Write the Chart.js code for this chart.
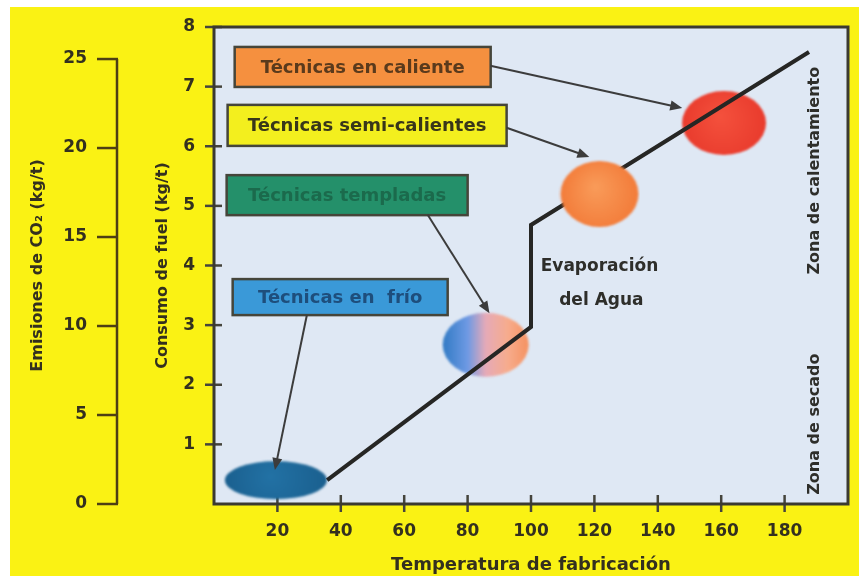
<!DOCTYPE html>
<html lang="es">
<head>
<meta charset="utf-8">
<title>Consumo de fuel según la temperatura de fabricación</title>
<script src="https://cdn.jsdelivr.net/npm/chart.js@4.4.1/dist/chart.umd.min.js"></script>
<style>
    html, body { margin: 0; padding: 0; background: #ffffff; }
    #wrap { position: absolute; left: 10px; top: 7px; width: 849px; height: 569px; background: #faf214; }
    canvas { display: block; }
</style>
</head>
<body>
<div id="wrap"><canvas id="fuelChart" width="849" height="569"></canvas></div>
<script>
// axis ticks
const tempTicks = [20, 40, 60, 80, 100, 120, 140, 160, 180];
const fuelTicks = [1, 2, 3, 4, 5, 6, 7, 8];
const co2Ticks = [0, 5, 10, 15, 20, 25];

// fuel consumption curve (temperature, kg/t)
const curveTemp = [35.7, 100, 100, 187.7];
const curveFuel = [0.40, 2.97, 4.68, 7.58];

// mix techniques, order: frío, templadas, semi-calientes, caliente
const techniques = ['Técnicas en  frío', 'Técnicas templadas', 'Técnicas semi-calientes', 'Técnicas en caliente'];
const techTemp = [19.5, 85.7, 121.6, 160.9];
const techFuel = [0.40, 2.67, 5.20, 6.39];

const INK = '#33301f';
const FONT = '"DejaVu Sans", sans-serif';

// ---- ellipse sprites used as point styles ----
function ellipseSprite(w, h, paint) {
    const c = document.createElement('canvas');
    c.width = w;
    c.height = h;
    const g = c.getContext('2d');
    g.filter = 'blur(0.8px)';
    g.beginPath();
    g.ellipse(w / 2, h / 2, w / 2 - 2, h / 2 - 2, 0, 0, Math.PI * 2);
    g.fillStyle = paint(g, w, h);
    g.fill();
    return c;
}

function radial(colorIn, colorOut) {
    return function (g, w, h) {
        const grad = g.createRadialGradient(w * 0.45, h * 0.4, 2, w / 2, h / 2, w / 2);
        grad.addColorStop(0, colorIn);
        grad.addColorStop(1, colorOut);
        return grad;
    };
}

const sprites = [
    ellipseSprite(106, 42, radial('#2271a4', '#1a5f8e')),
    ellipseSprite(90, 68, function (g, w) {
        const grad = g.createLinearGradient(0, 0, w, 0);
        grad.addColorStop(0, '#2c78c2');
        grad.addColorStop(0.3, '#6f9ae4');
        grad.addColorStop(0.5, '#e6aab8');
        grad.addColorStop(0.75, '#f7ac8c');
        grad.addColorStop(1, '#f58f5c');
        return grad;
    }),
    ellipseSprite(82, 70, radial('#f99a58', '#f27a38')),
    ellipseSprite(88, 68, radial('#f4503c', '#e83a2c'))
];

function techPoints(indexes) {
    return indexes.map(function (i) { return { x: techTemp[i], y: techFuel[i] }; });
}

function techSprites(indexes) {
    return indexes.map(function (i) { return sprites[i]; });
}

// ---- annotations (boxes, arrows, notes) placed in data coordinates ----
const labelBoxes = [
    { text: techniques[3], x: 46.9, y: 7.33, w: 256, h: 40, fill: '#f5903f', color: '#5a3a1c' },
    { text: techniques[2], x: 48.3, y: 6.35, w: 279, h: 41, fill: '#f3ef1e', color: '#38361a' },
    { text: techniques[1], x: 42.0, y: 5.18, w: 241, h: 40, fill: '#24906a', color: '#1b6a4c' },
    { text: techniques[0], x: 39.8, y: 3.47, w: 215, h: 36, fill: '#3a99d8', color: '#1e4e7c' }
];

const arrows = [
    { from: [87.2, 7.35], to: [147.7, 6.64] },
    { from: [92.3, 6.31], to: [118.4, 5.82] },
    { from: [67.4, 4.85], to: [86.9, 3.20] },
    { from: [29.3, 3.17], to: [19.2, 0.57] }
];

const notes = [
    { text: 'Evaporación', x: 121.6, y: 3.98, size: 17, rotate: false },
    { text: 'del Agua', x: 122.2, y: 3.42, size: 17, rotate: false },
    { text: 'Zona de calentamiento', x: 189.6, y: 5.59, size: 16, rotate: true },
    { text: 'Zona de secado', x: 189.6, y: 1.34, size: 16, rotate: true }
];

function drawArrow(ctx, x1, y1, x2, y2) {
    const ang = Math.atan2(y2 - y1, x2 - x1);
    const head = 12;
    const half = 5;
    const cos = Math.cos(ang);
    const sin = Math.sin(ang);
    ctx.beginPath();
    ctx.moveTo(x1, y1);
    ctx.lineTo(x2 - head * cos * 0.8, y2 - head * sin * 0.8);
    ctx.stroke();
    ctx.beginPath();
    ctx.moveTo(x2, y2);
    ctx.lineTo(x2 - head * cos + half * sin, y2 - head * sin - half * cos);
    ctx.lineTo(x2 - head * cos - half * sin, y2 - head * sin + half * cos);
    ctx.closePath();
    ctx.fill();
}

const plotFrame = {
    id: 'plotFrame',
    beforeDraw(chart) {
        const ctx = chart.ctx;
        const a = chart.chartArea;
        ctx.save();
        ctx.fillStyle = '#dfe8f4';
        ctx.fillRect(a.left, a.top, a.right - a.left, a.bottom - a.top);
        ctx.restore();
    },
    beforeDatasetsDraw(chart) {
        const ctx = chart.ctx;
        const a = chart.chartArea;
        const xs = chart.scales.x;
        const ys = chart.scales.y;
        const co2 = chart.scales.y2;
        ctx.save();
        ctx.lineCap = 'butt';

        // tick marks crossing the axes
        ctx.strokeStyle = '#45443c';
        ctx.lineWidth = 2.5;
        tempTicks.forEach(function (v) {
            const px = xs.getPixelForValue(v);
            ctx.beginPath();
            ctx.moveTo(px, a.bottom - 9);
            ctx.lineTo(px, a.bottom + 8);
            ctx.stroke();
        });
        fuelTicks.forEach(function (v) {
            const py = ys.getPixelForValue(v);
            ctx.beginPath();
            ctx.moveTo(a.left - 9, py);
            ctx.lineTo(a.left + 8, py);
            ctx.stroke();
        });

        // CO2 bracket axis, 0 to 25 only
        ctx.strokeStyle = '#4d3f14';
        ctx.beginPath();
        ctx.moveTo(co2.right, co2.getPixelForValue(co2Ticks[0]));
        ctx.lineTo(co2.right, co2.getPixelForValue(co2Ticks[co2Ticks.length - 1]));
        ctx.stroke();
        co2Ticks.forEach(function (v) {
            const py = co2.getPixelForValue(v);
            ctx.beginPath();
            ctx.moveTo(co2.right - 20, py);
            ctx.lineTo(co2.right + 1, py);
            ctx.stroke();
        });

        // plot frame
        ctx.strokeStyle = '#3b3a30';
        ctx.lineWidth = 3;
        ctx.strokeRect(a.left, a.top, a.right - a.left, a.bottom - a.top);
        ctx.restore();
    },
    afterDatasetsDraw(chart) {
        const ctx = chart.ctx;
        const xs = chart.scales.x;
        const ys = chart.scales.y;
        ctx.save();

        labelBoxes.forEach(function (b) {
            const cx = xs.getPixelForValue(b.x);
            const cy = ys.getPixelForValue(b.y);
            ctx.fillStyle = b.fill;
            ctx.fillRect(cx - b.w / 2, cy - b.h / 2, b.w, b.h);
            ctx.strokeStyle = '#45453a';
            ctx.lineWidth = 2.5;
            ctx.strokeRect(cx - b.w / 2, cy - b.h / 2, b.w, b.h);
            ctx.fillStyle = b.color;
            ctx.font = 'bold 18px ' + FONT;
            ctx.textAlign = 'center';
            ctx.textBaseline = 'middle';
            ctx.fillText(b.text, cx, cy + 1);
        });

        ctx.strokeStyle = '#3c3c3c';
        ctx.fillStyle = '#3c3c3c';
        ctx.lineWidth = 2;
        arrows.forEach(function (ar) {
            drawArrow(ctx,
                xs.getPixelForValue(ar.from[0]), ys.getPixelForValue(ar.from[1]),
                xs.getPixelForValue(ar.to[0]), ys.getPixelForValue(ar.to[1]));
        });

        ctx.fillStyle = '#2e2e2a';
        ctx.textAlign = 'center';
        ctx.textBaseline = 'middle';
        notes.forEach(function (n) {
            ctx.font = 'bold ' + n.size + 'px ' + FONT;
            const px = xs.getPixelForValue(n.x);
            const py = ys.getPixelForValue(n.y);
            if (n.rotate) {
                ctx.save();
                ctx.translate(px, py);
                ctx.rotate(-Math.PI / 2);
                ctx.fillText(n.text, 0, 0);
                ctx.restore();
            } else {
                ctx.fillText(n.text, px, py);
            }
        });
        ctx.restore();
    }
};

function fixedTicks(list) {
    return function (scale) {
        scale.ticks = list.map(function (v) { return { value: v }; });
    };
}

// fixed box sizes, and no extra room reserved for edge labels
function fixedSize(w, h) {
    return function (scale) {
        if (w) scale.width = w;
        if (h) scale.height = h;
        scale.paddingTop = 0;
        scale.paddingBottom = 0;
        scale.paddingLeft = 0;
        scale.paddingRight = 0;
    };
}

const ctx = document.getElementById('fuelChart').getContext('2d');

new Chart(ctx, {
    type: 'scatter',
    data: {
        datasets: [
            {
                label: 'semi-calientes',
                data: techPoints([2]),
                pointStyle: techSprites([2]),
                pointRadius: 10,
                order: 0
            },
            {
                label: 'Consumo de fuel',
                data: curveTemp.map(function (t, i) { return { x: t, y: curveFuel[i] }; }),
                showLine: true,
                borderColor: '#262624',
                borderWidth: 4,
                pointRadius: 0,
                tension: 0,
                order: 1
            },
            {
                label: 'técnicas',
                data: techPoints([0, 1, 3]),
                pointStyle: techSprites([0, 1, 3]),
                pointRadius: 10,
                order: 2
            }
        ]
    },
    options: {
        responsive: false,
        devicePixelRatio: 1,
        animation: false,
        events: [],
        layout: { padding: { left: 0, top: 20, right: 10, bottom: 0 } },
        plugins: {
            legend: { display: false },
            tooltip: { enabled: false }
        },
        scales: {
            x: {
                type: 'linear',
                min: 0,
                max: 200,
                afterBuildTicks: fixedTicks(tempTicks),
                afterFit: fixedSize(0, 72),
                grid: { display: false },
                border: { display: false },
                ticks: { padding: 9, autoSkip: false, maxRotation: 0, color: INK, font: { family: FONT, size: 17, weight: 'bold' } },
                title: { display: true, text: 'Temperatura de fabricación', color: INK, padding: { top: 0, bottom: 0 }, font: { family: FONT, size: 18, weight: 'bold' } }
            },
            y: {
                position: 'left',
                weight: 0,
                min: 0,
                max: 8,
                afterBuildTicks: fixedTicks(fuelTicks),
                afterFit: fixedSize(97, 0),
                grid: { display: false },
                border: { display: false },
                ticks: { padding: 11, autoSkip: false, color: INK, font: { family: FONT, size: 17, weight: 'bold' } },
                title: { display: true, text: 'Consumo de fuel (kg/t)', color: INK, padding: { top: 36, bottom: 0 }, font: { family: FONT, size: 16, weight: 'bold' } }
            },
            y2: {
                position: 'left',
                weight: 1,
                min: 0,
                max: 26.8,
                afterBuildTicks: fixedTicks(co2Ticks),
                afterFit: fixedSize(107, 0),
                grid: { display: false },
                border: { display: false },
                ticks: { padding: 22, autoSkip: false, color: INK, font: { family: FONT, size: 17, weight: 'bold' } },
                title: { display: true, text: 'Emisiones de CO₂ (kg/t)', color: INK, padding: { top: 18, bottom: 0 }, font: { family: FONT, size: 16, weight: 'bold' } }
            }
        }
    },
    plugins: [plotFrame]
});
</script>
</body>
</html>
